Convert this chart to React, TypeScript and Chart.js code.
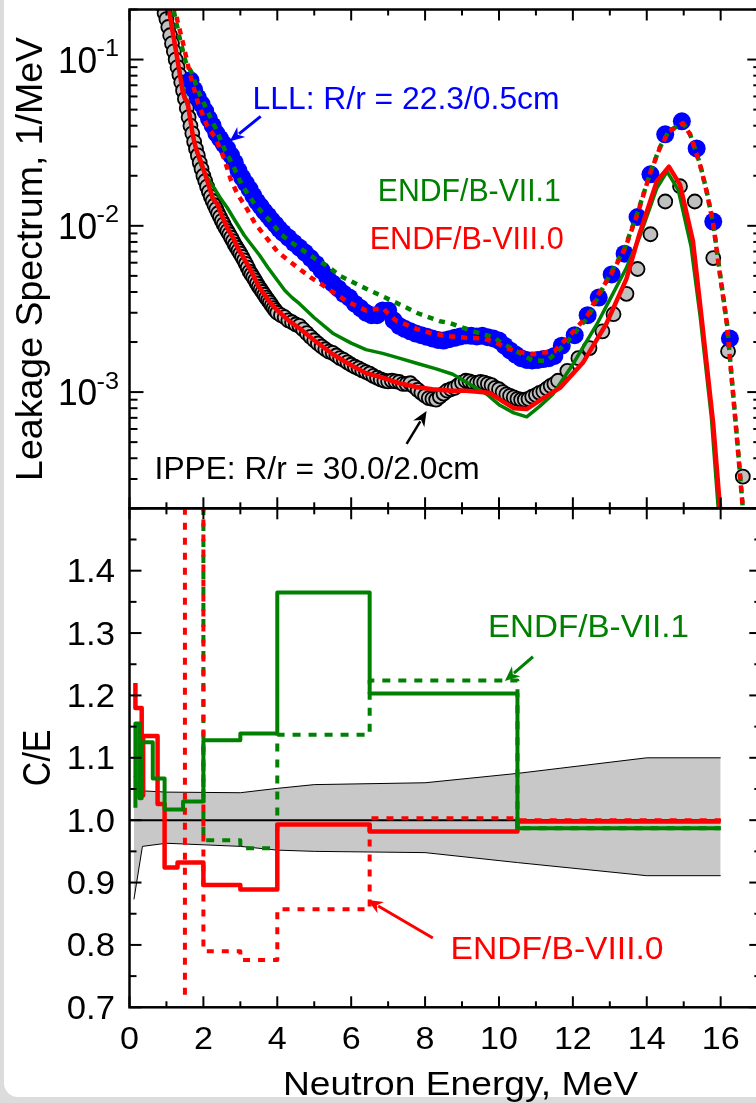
import React, { useEffect, useRef } from "react";
import { Chart, registerables } from "chart.js";

Chart.register(...registerables);

const FONT = '"Liberation Sans", Arial, Helvetica, sans-serif';

// ---------------- Top panel: leakage spectra (1/MeV) ----------------
const ippeEnergy = [0.9, 0.95, 1.0, 1.05, 1.1, 1.15, 1.2, 1.25, 1.3, 1.35, 1.4, 1.45, 1.5, 1.55, 1.6, 1.65, 1.7, 1.75, 1.8, 1.85, 1.9, 1.95, 2.0, 2.05, 2.1, 2.15, 2.2, 2.25, 2.3, 2.35, 2.4, 2.45, 2.5, 2.55, 2.6, 2.65, 2.7, 2.75, 2.8, 2.85, 2.9, 2.95, 3.0, 3.05, 3.1, 3.15, 3.2, 3.25, 3.3, 3.35, 3.4, 3.45, 3.5, 3.55, 3.6, 3.65, 3.7, 3.75, 3.8, 3.85, 3.9, 3.95, 4.0, 4.1, 4.2, 4.3, 4.4, 4.5, 4.6, 4.7, 4.8, 4.9, 5.0, 5.1, 5.2, 5.3, 5.4, 5.5, 5.6, 5.7, 5.8, 5.9, 6.0, 6.1, 6.2, 6.3, 6.4, 6.5, 6.6, 6.7, 6.8, 6.9, 7.0, 7.1, 7.2, 7.3, 7.4, 7.5, 7.6, 7.7, 7.8, 7.9, 8.0, 8.1, 8.2, 8.3, 8.4, 8.5, 8.6, 8.7, 8.8, 8.9, 9.0, 9.1, 9.2, 9.3, 9.4, 9.5, 9.6, 9.7, 9.8, 9.9, 10.0, 10.1, 10.2, 10.3, 10.4, 10.5, 10.6, 10.7, 10.8, 10.9, 11.0, 11.1, 11.2, 11.3, 11.4, 11.5, 11.6, 11.85, 12.15, 12.45, 12.8, 13.1, 13.45, 13.75, 14.1, 14.5, 14.9, 15.3, 15.8, 16.2, 16.6];
const ippeSpectrum = [0.21, 0.19, 0.175, 0.157, 0.14, 0.125, 0.112, 0.1, 0.09, 0.081, 0.073, 0.065, 0.058, 0.051, 0.045, 0.04, 0.036, 0.032, 0.029, 0.0265, 0.024, 0.022, 0.02, 0.0186, 0.0172, 0.016, 0.015, 0.0141, 0.0133, 0.0126, 0.0119, 0.0113, 0.0107, 0.0102, 0.0097, 0.0093, 0.0089, 0.0085, 0.0081, 0.0077, 0.0074, 0.0071, 0.0068, 0.0065, 0.0062, 0.0059, 0.0056, 0.0053, 0.0051, 0.0049, 0.0047, 0.0045, 0.0043, 0.00415, 0.004, 0.00385, 0.0037, 0.00357, 0.00345, 0.00332, 0.0032, 0.0031, 0.003, 0.0029, 0.00282, 0.0027, 0.00263, 0.00255, 0.0025, 0.00238, 0.00226, 0.00215, 0.00205, 0.00196, 0.00188, 0.00181, 0.00175, 0.00172, 0.00166, 0.0016, 0.00156, 0.00151, 0.00146, 0.00142, 0.00139, 0.00135, 0.00132, 0.00129, 0.00125, 0.00122, 0.00119, 0.00117, 0.00116, 0.00117, 0.00116, 0.00115, 0.00112, 0.00112, 0.00113, 0.00108, 0.00103, 0.00099, 0.00095, 0.00092, 0.00091, 0.0009, 0.00094, 0.00098, 0.00102, 0.00104, 0.00106, 0.0011, 0.00114, 0.00117, 0.00116, 0.00114, 0.00113, 0.00115, 0.00114, 0.00112, 0.0011, 0.00106, 0.00104, 0.001, 0.00097, 0.00095, 0.00093, 0.00091, 0.0009, 0.0009, 0.00091, 0.00094, 0.00096, 0.00099, 0.00101, 0.00105, 0.00109, 0.00112, 0.00117, 0.00134, 0.0016, 0.00184, 0.00232, 0.00294, 0.0039, 0.0055, 0.0089, 0.014, 0.0173, 0.014, 0.0064, 0.00176, 0.00031];

const lllEnergy = [1.65, 1.75, 1.85, 1.95, 2.05, 2.15, 2.25, 2.35, 2.45, 2.55, 2.65, 2.75, 2.85, 2.95, 3.05, 3.15, 3.25, 3.35, 3.45, 3.55, 3.65, 3.75, 3.85, 3.95, 4.05, 4.15, 4.3, 4.45, 4.6, 4.75, 4.9, 5.05, 5.2, 5.35, 5.5, 5.65, 5.8, 5.95, 6.1, 6.25, 6.4, 6.55, 6.7, 6.85, 7.0, 7.15, 7.3, 7.45, 7.6, 7.75, 7.9, 8.05, 8.2, 8.35, 8.5, 8.65, 8.8, 8.95, 9.1, 9.25, 9.4, 9.55, 9.7, 9.85, 10.0, 10.15, 10.3, 10.45, 10.6, 10.75, 10.9, 11.05, 11.2, 11.35, 11.5, 11.7, 12.05, 12.4, 12.7, 13.05, 13.4, 13.75, 14.1, 14.5, 14.95, 15.35, 15.8, 16.25];
const lllSpectrum = [0.075, 0.066, 0.059, 0.054, 0.049, 0.044, 0.04, 0.036, 0.0335, 0.031, 0.029, 0.0265, 0.024, 0.0215, 0.0195, 0.018, 0.0166, 0.0152, 0.014, 0.0131, 0.0122, 0.0115, 0.0108, 0.0102, 0.0096, 0.0091, 0.0085, 0.0079, 0.0074, 0.0069, 0.0064, 0.0059, 0.0054, 0.0049, 0.0045, 0.0042, 0.0039, 0.0037, 0.0034, 0.0032, 0.003, 0.0029, 0.0029, 0.0031, 0.0031, 0.0027, 0.0025, 0.0024, 0.00232, 0.00225, 0.0022, 0.00215, 0.0021, 0.00206, 0.00204, 0.00208, 0.00212, 0.00216, 0.00219, 0.00218, 0.00216, 0.00218, 0.00214, 0.0021, 0.00204, 0.0019, 0.00178, 0.00168, 0.0016, 0.00156, 0.00155, 0.00156, 0.00158, 0.0016, 0.00165, 0.0019, 0.0022, 0.0029, 0.0037, 0.0051, 0.0068, 0.0113, 0.0204, 0.0355, 0.0425, 0.0292, 0.0106, 0.0021];

const vii1IppeEnergy = [1.0, 1.1, 1.2, 1.3, 1.4, 1.5, 1.6, 1.7, 1.8, 1.93, 2.1, 2.29, 2.45, 2.65, 2.85, 3.1, 3.3, 3.51, 3.75, 4.0, 4.2, 4.4, 4.6, 5.0, 5.5, 6.0, 6.4, 6.85, 7.3, 7.77, 8.3, 8.75, 9.2, 9.67, 10.0, 10.4, 10.75, 11.1, 11.46, 12.0, 12.65, 13.0, 13.45, 13.8, 14.27, 14.55, 14.85, 15.2, 15.45, 15.75, 15.95];
const vii1IppeSpectrum = [0.24, 0.18, 0.135, 0.1, 0.075, 0.06, 0.05, 0.037, 0.029, 0.0232, 0.0195, 0.0169, 0.0148, 0.0128, 0.0108, 0.0088, 0.0077, 0.0067, 0.0056, 0.0047, 0.0041, 0.0037, 0.0034, 0.0028, 0.00226, 0.00197, 0.0018, 0.00171, 0.0016, 0.00149, 0.00138, 0.00128, 0.00112, 0.00097, 0.00084, 0.00075, 0.00071, 0.00082, 0.00097, 0.00147, 0.00256, 0.0036, 0.0056, 0.0085, 0.0168, 0.0212, 0.0165, 0.0075, 0.0028, 0.0007, 0.00018];

const viii0IppeEnergy = [1.0, 1.07, 1.15, 1.25, 1.35, 1.44, 1.5, 1.57, 1.65, 1.71, 1.8, 1.93, 2.11, 2.26, 2.38, 2.5, 2.65, 2.8, 2.95, 3.06, 3.2, 3.34, 3.5, 3.79, 4.0, 4.3, 4.6, 5.0, 5.5, 6.0, 6.4, 6.8, 7.3, 7.8, 8.2, 8.7, 9.1, 9.75, 10.1, 10.4, 10.75, 11.2, 11.65, 12.27, 12.9, 13.45, 13.8, 14.27, 14.6, 14.9, 15.25, 15.5, 15.8, 16.0];
const viii0IppeSpectrum = [0.23, 0.2, 0.155, 0.115, 0.085, 0.064, 0.058, 0.056, 0.043, 0.0353, 0.029, 0.0244, 0.0185, 0.0145, 0.0135, 0.0115, 0.0097, 0.0085, 0.0072, 0.0066, 0.0058, 0.0051, 0.0043, 0.0035, 0.0031, 0.0027, 0.00242, 0.00205, 0.00169, 0.00145, 0.0013, 0.00123, 0.00113, 0.00107, 0.00104, 0.00102, 0.00102, 0.00099, 0.00088, 0.0008, 0.00079, 0.00092, 0.00106, 0.0015, 0.00256, 0.0048, 0.0089, 0.0185, 0.0227, 0.0177, 0.0081, 0.0026, 0.00064, 0.00018];

const vii1LllEnergy = [1.1, 1.22, 1.36, 1.52, 1.7, 1.84, 2.11, 2.33, 2.57, 2.84, 3.06, 3.39, 3.82, 4.09, 4.47, 5.0, 5.42, 5.7, 6.2, 6.7, 7.4, 7.77, 8.4, 8.67, 9.3, 9.9, 10.0, 10.57, 10.9, 11.3, 11.8, 12.4, 12.7, 13.05, 13.4, 13.75, 14.1, 14.35, 14.6, 14.98, 15.17, 15.44, 15.62, 15.8, 15.98, 16.17, 16.33, 16.47, 16.6, 16.7];
const vii1LllSpectrum = [0.25, 0.186, 0.134, 0.097, 0.082, 0.066, 0.049, 0.0386, 0.029, 0.0221, 0.0173, 0.0135, 0.0106, 0.0089, 0.0077, 0.0064, 0.0056, 0.005, 0.0044, 0.0039, 0.0033, 0.003, 0.00267, 0.0026, 0.00232, 0.00212, 0.00202, 0.00171, 0.00155, 0.00154, 0.00195, 0.0028, 0.0038, 0.0053, 0.0073, 0.012, 0.021, 0.0295, 0.0372, 0.0415, 0.0357, 0.0236, 0.0162, 0.0103, 0.0052, 0.0026, 0.00102, 0.00045, 0.0002, 0.00015];

const viii0LllEnergy = [1.15, 1.3, 1.44, 1.62, 1.84, 2.1, 2.33, 2.56, 2.74, 2.93, 3.14, 3.4, 3.74, 4.0, 4.3, 4.6, 4.9, 5.23, 5.5, 5.9, 6.4, 6.85, 7.2, 7.77, 8.2, 8.67, 9.1, 9.57, 9.9, 10.2, 10.5, 10.9, 11.5, 12.0, 12.4, 12.7, 13.05, 13.4, 13.75, 14.1, 14.35, 14.6, 14.98, 15.17, 15.44, 15.62, 15.8, 15.98, 16.17, 16.33, 16.47, 16.6, 16.7];
const viii0LllSpectrum = [0.25, 0.17, 0.128, 0.085, 0.056, 0.04, 0.0336, 0.0254, 0.019, 0.0154, 0.0131, 0.0103, 0.0083, 0.007, 0.0062, 0.0055, 0.0049, 0.0044, 0.004, 0.0035, 0.0031, 0.0032, 0.0027, 0.0024, 0.00225, 0.00217, 0.00212, 0.0021, 0.002, 0.00184, 0.00175, 0.00169, 0.00176, 0.0023, 0.0029, 0.0039, 0.0052, 0.0072, 0.0118, 0.021, 0.0292, 0.037, 0.0413, 0.0355, 0.0234, 0.0161, 0.0102, 0.0051, 0.00256, 0.00101, 0.00044, 0.0002, 0.00015];

// ---------------- Bottom panel: C/E ----------------
const bandEnergy = [0.12, 0.35, 1.0, 3.0, 4.0, 5.0, 8.0, 10.5, 14.0, 16.0];
const bandUpper = [1.07, 1.047, 1.045, 1.044, 1.051, 1.057, 1.06, 1.075, 1.1, 1.1];
const bandLower = [0.873, 0.958, 0.963, 0.958, 0.952, 0.95, 0.948, 0.932, 0.911, 0.911];

const unityEnergy = [0, 16];
const unityValue = [1.0, 1.0];

const ceVii1IppeEdges = [0.16, 0.16, 0.27, 0.33, 0.63, 0.95, 1.45, 2.0, 3.0, 4.0, 6.5, 10.5, 16.0];
const ceVii1IppeValues = [1.02, 1.155, 1.035, 1.125, 1.067, 1.017, 1.03, 1.128, 1.139, 1.365, 1.203, 0.987];

const ceViii0IppeEdges = [0.16, 0.16, 0.33, 0.37, 0.76, 0.95, 1.3, 2.0, 3.0, 4.0, 6.5, 10.5, 16.0];
const ceViii0IppeValues = [1.22, 1.18, 1.04, 1.135, 1.026, 0.924, 0.932, 0.896, 0.889, 0.993, 0.982, 0.998];

const ceVii1LllEdges = [1.5, 2.0, 3.0, 4.0, 6.5, 10.5, 16.0];
const ceVii1LllValues = [2.0, 0.968, 0.955, 1.137, 1.224, 0.987];

const ceViii0LllEdges = [1.5, 1.5, 2.0, 3.0, 4.0, 6.5, 10.5, 16.0];
const ceViii0LllValues = [0.72, 2.0, 0.79, 0.776, 0.857, 1.003, 1.0];

// ---------------- axes ----------------
const X_MIN = 0;
const X_MAX = 17.1;
const SPEC_MIN = 2e-4;
const SPEC_MAX = 0.2;
const CE_MIN = 0.7;
const CE_MAX = 1.5;

const GREEN = "#008000";
const RED = "#ff0000";
const BLUE = "#0000ff";

const W = 780;
const TOP_H = 520;
const BOT_H = 603;
const BOT_OFFSET = 500;
const PLOT_LEFT = 129.5;
const PLOT_RIGHT = 761.3;

const pts = (xs: number[], ys: number[]) => xs.map((x, i) => ({ x, y: ys[i] }));
// each point sits on a bin's left edge with that bin's value; the last point closes the last bin
const steps = (edges: number[], vals: number[]) =>
  edges.map((x, i) => ({ x, y: vals[Math.min(i, vals.length - 1)] }));

type TextOpts = {
  size: number;
  color?: string;
  sx?: number;
  sy?: number;
  width?: number;
  align?: CanvasTextAlign;
  rot?: number;
};

function drawText(ctx: CanvasRenderingContext2D, text: string, x: number, y: number, o: TextOpts) {
  ctx.save();
  ctx.font = `${o.size}px ${FONT}`;
  ctx.fillStyle = o.color ?? "#000";
  ctx.textAlign = o.align ?? "left";
  ctx.textBaseline = "alphabetic";
  let sx = o.sx ?? 1;
  if (o.width) sx = o.width / ctx.measureText(text).width;
  ctx.translate(x, y);
  if (o.rot) ctx.rotate(o.rot);
  ctx.scale(sx, o.sy ?? 1);
  ctx.fillText(text, 0, 0);
  ctx.restore();
}

function drawArrow(ctx: CanvasRenderingContext2D, x1: number, y1: number, x2: number, y2: number, color: string, lw: number) {
  const ang = Math.atan2(y2 - y1, x2 - x1);
  const hl = 15;
  const hw = 6.5;
  const c = Math.cos(ang);
  const s = Math.sin(ang);
  ctx.save();
  ctx.strokeStyle = color;
  ctx.fillStyle = color;
  ctx.lineWidth = lw;
  ctx.beginPath();
  ctx.moveTo(x1, y1);
  ctx.lineTo(x2 - c * hl * 0.8, y2 - s * hl * 0.8);
  ctx.stroke();
  ctx.beginPath();
  ctx.moveTo(x2, y2);
  ctx.lineTo(x2 - c * hl - s * hw, y2 - s * hl + c * hw);
  ctx.lineTo(x2 - c * hl * 0.7, y2 - s * hl * 0.7);
  ctx.lineTo(x2 - c * hl + s * hw, y2 - s * hl - c * hw);
  ctx.closePath();
  ctx.fill();
  ctx.restore();
}

function seg(ctx: CanvasRenderingContext2D, x1: number, y1: number, x2: number, y2: number) {
  ctx.beginPath();
  ctx.moveTo(x1, y1);
  ctx.lineTo(x2, y2);
  ctx.stroke();
}

function drawXTicks(ctx: CanvasRenderingContext2D, chart: any) {
  const a = chart.chartArea;
  const x = chart.scales.x;
  ctx.lineWidth = 2;
  ctx.strokeStyle = "#000";
  for (let v = Math.ceil(x.min); v <= x.max + 1e-9; v += 1) {
    const px = x.getPixelForValue(v);
    const len = Math.round(v) % 2 === 0 ? 11 : 6;
    seg(ctx, px, a.top, px, a.top + len);
    seg(ctx, px, a.bottom, px, a.bottom - len);
  }
}

const topNotes = [
  { text: "LLL: R/r = 22.3/0.5cm", e: 3.33, v: 0.0501, color: BLUE, size: 31, width: 307 },
  { text: "ENDF/B-VII.1", e: 6.72, v: 0.01403, color: GREEN, size: 31, width: 183 },
  { text: "ENDF/B-VIII.0", e: 6.5, v: 0.00723, color: RED, size: 31, width: 194 },
  { text: "IPPE: R/r = 30.0/2.0cm", e: 0.68, v: 0.0003, color: "#000", size: 31, width: 325 },
];
const topArrows = [
  { from: [3.55, 0.0455], to: [2.71, 0.0322], color: BLUE, lw: 3 },
  { from: [7.5, 0.000488], to: [8.04, 0.000769], color: "#000", lw: 2.5 },
];
const bottomNotes = [
  { text: "ENDF/B-VII.1", e: 9.7, v: 1.2937, color: GREEN, size: 32, width: 201 },
  { text: "ENDF/B-VIII.0", e: 8.69, v: 0.7775, color: RED, size: 32, width: 213 },
];
const bottomArrows = [
  { from: [10.92, 1.262], to: [10.16, 1.223], color: GREEN, lw: 3 },
  { from: [8.21, 0.811], to: [6.45, 0.872], color: RED, lw: 3 },
];

const topDecor = {
  id: "topDecor",
  afterDraw(chart: any) {
    const ctx: CanvasRenderingContext2D = chart.ctx;
    const a = chart.chartArea;
    const x = chart.scales.x;
    const y = chart.scales.y;
    ctx.save();
    drawXTicks(ctx, chart);
    for (let d = -4; d <= -1; d++) {
      for (let m = 1; m <= 9; m++) {
        const v = m * Math.pow(10, d);
        if (v < y.min * 0.999 || v > y.max * 1.001) continue;
        const py = y.getPixelForValue(v);
        const len = m === 1 ? 14 : 8;
        seg(ctx, a.left, py, a.left + len, py);
        seg(ctx, a.right, py, a.right - len, py);
      }
    }
    ctx.lineWidth = 2.5;
    ctx.strokeRect(a.left, a.top, a.right - a.left, a.bottom - a.top);
    for (const t of y.ticks) {
      const lg = Math.log10(t.value);
      if (Math.abs(lg - Math.round(lg)) > 1e-6) continue;
      const py = y.getPixelForValue(t.value);
      drawText(ctx, "10", a.left - 71.5, py + 13, { size: 36, sx: 0.98 });
      drawText(ctx, String(Math.round(lg)), a.left - 33, py - 3.5, { size: 23, sx: 1.1 });
    }
    drawText(ctx, "Leakage Spectrum, 1/MeV", 42, (a.top + a.bottom) / 2, {
      size: 37.5,
      align: "center",
      rot: -Math.PI / 2,
    });
    for (const n of topNotes) {
      drawText(ctx, n.text, x.getPixelForValue(n.e), y.getPixelForValue(n.v), {
        size: n.size,
        color: n.color,
        width: n.width,
      });
    }
    for (const ar of topArrows) {
      drawArrow(
        ctx,
        x.getPixelForValue(ar.from[0]),
        y.getPixelForValue(ar.from[1]),
        x.getPixelForValue(ar.to[0]),
        y.getPixelForValue(ar.to[1]),
        ar.color,
        ar.lw
      );
    }
    ctx.restore();
  },
};

const bottomDecor = {
  id: "bottomDecor",
  afterDraw(chart: any) {
    const ctx: CanvasRenderingContext2D = chart.ctx;
    const a = chart.chartArea;
    const x = chart.scales.x;
    const y = chart.scales.y;
    ctx.save();
    drawXTicks(ctx, chart);
    for (let k = 0; k <= 16; k++) {
      const v = CE_MIN + k * 0.05;
      const py = y.getPixelForValue(v);
      const len = k % 2 === 0 ? 12 : 7;
      seg(ctx, a.left, py, a.left + len, py);
      seg(ctx, a.right, py, a.right - len, py);
    }
    ctx.lineWidth = 2.5;
    ctx.strokeRect(a.left, a.top, a.right - a.left, a.bottom - a.top);
    for (const t of x.ticks) {
      drawText(ctx, String(Math.round(t.value)), x.getPixelForValue(t.value), a.bottom + 41.5, {
        size: 31,
        sx: 1.1,
        align: "center",
      });
    }
    for (const t of y.ticks) {
      if (t.value > CE_MAX - 0.05) continue;
      drawText(ctx, t.value.toFixed(1), a.left - 14.5, y.getPixelForValue(t.value) + 11.5, {
        size: 33,
        sx: 1.05,
        align: "right",
      });
    }
    drawText(ctx, "C/E", 50, (a.top + a.bottom) / 2, {
      size: 34,
      sy: 1.15,
      align: "center",
      rot: -Math.PI / 2,
    });
    drawText(ctx, "Neutron Energy, MeV", 283, a.bottom + 88, { size: 32.5, width: 355 });
    for (const n of bottomNotes) {
      drawText(ctx, n.text, x.getPixelForValue(n.e), y.getPixelForValue(n.v), {
        size: n.size,
        color: n.color,
        width: n.width,
      });
    }
    for (const ar of bottomArrows) {
      drawArrow(
        ctx,
        x.getPixelForValue(ar.from[0]),
        y.getPixelForValue(ar.from[1]),
        x.getPixelForValue(ar.to[0]),
        y.getPixelForValue(ar.to[1]),
        ar.color,
        ar.lw
      );
    }
    ctx.restore();
  },
};

const lineDs = (label: string, data: any[], color: string, width: number, order: number, extra: any = {}) => ({
  label,
  data,
  showLine: true,
  borderColor: color,
  backgroundColor: color,
  borderWidth: width,
  pointRadius: 0,
  pointHoverRadius: 0,
  tension: 0,
  borderJoinStyle: "round",
  borderCapStyle: "butt",
  fill: false,
  order,
  ...extra,
});

function topConfig(): any {
  return {
    type: "scatter",
    data: {
      datasets: [
        lineDs("ENDF/B-VIII.0 (LLL)", pts(viii0LllEnergy, viii0LllSpectrum), RED, 4.5, 0, {
          borderDash: [6, 6],
          borderDashOffset: 0,
        }),
        lineDs("ENDF/B-VII.1 (LLL)", pts(vii1LllEnergy, vii1LllSpectrum), GREEN, 4.5, 1, {
          borderDash: [6, 6],
          borderDashOffset: 6,
        }),
        lineDs("ENDF/B-VIII.0 (IPPE)", pts(viii0IppeEnergy, viii0IppeSpectrum), RED, 4.5, 2),
        lineDs("ENDF/B-VII.1 (IPPE)", pts(vii1IppeEnergy, vii1IppeSpectrum), GREEN, 3.5, 3),
        {
          label: "LLL",
          data: pts(lllEnergy, lllSpectrum),
          showLine: false,
          pointRadius: 9,
          pointBackgroundColor: BLUE,
          pointBorderColor: BLUE,
          pointBorderWidth: 0,
          order: 4,
        },
        {
          label: "IPPE",
          data: pts(ippeEnergy, ippeSpectrum),
          showLine: false,
          pointRadius: 7,
          pointBackgroundColor: "#c0c0c0",
          pointBorderColor: "#000",
          pointBorderWidth: 1.8,
          order: 5,
        },
      ],
    },
    options: {
      responsive: false,
      animation: false,
      events: [],
      layout: { padding: { left: 0, right: W - PLOT_RIGHT, top: 9.5, bottom: TOP_H - 508.3 } },
      plugins: { legend: { display: false }, tooltip: { enabled: false } },
      scales: {
        x: { type: "linear", min: X_MIN, max: X_MAX, display: false },
        y: {
          type: "logarithmic",
          min: SPEC_MIN,
          max: SPEC_MAX,
          grid: { display: false },
          border: { display: false },
          ticks: { display: false },
          afterFit: (s: any) => {
            s.width = PLOT_LEFT;
          },
        },
      },
    },
    plugins: [topDecor],
  };
}

function bottomConfig(): any {
  return {
    type: "scatter",
    data: {
      datasets: [
        lineDs("ENDF/B-VII.1 C/E (IPPE)", steps(ceVii1IppeEdges, ceVii1IppeValues), GREEN, 4, 0, { stepped: "before" }),
        lineDs("ENDF/B-VIII.0 C/E (IPPE)", steps(ceViii0IppeEdges, ceViii0IppeValues), RED, 4.5, 1, { stepped: "before" }),
        lineDs("ENDF/B-VIII.0 C/E (LLL)", steps(ceViii0LllEdges, ceViii0LllValues), RED, 4, 2, {
          stepped: "before",
          borderDash: [7, 8],
          borderDashOffset: 0,
        }),
        lineDs("ENDF/B-VII.1 C/E (LLL)", steps(ceVii1LllEdges, ceVii1LllValues), GREEN, 4, 3, {
          stepped: "before",
          borderDash: [8, 8],
          borderDashOffset: 7,
        }),
        lineDs("unity", pts(unityEnergy, unityValue), "#000", 2, 4),
        lineDs("uncertainty upper", pts(bandEnergy, bandUpper), "#000", 1, 6, {
          fill: "+1",
          backgroundColor: "#c8c8c8",
        }),
        lineDs("uncertainty lower", pts(bandEnergy, bandLower), "#000", 1, 5),
      ],
    },
    options: {
      responsive: false,
      animation: false,
      events: [],
      layout: { padding: { left: 0, right: W - PLOT_RIGHT, top: 508.3 - BOT_OFFSET, bottom: 0 } },
      plugins: { legend: { display: false }, tooltip: { enabled: false } },
      scales: {
        x: {
          type: "linear",
          min: X_MIN,
          max: X_MAX,
          grid: { display: false },
          border: { display: false },
          ticks: { display: false, stepSize: 2, includeBounds: false },
          afterFit: (s: any) => {
            s.height = BOT_H - (1007.3 - BOT_OFFSET);
          },
        },
        y: {
          type: "linear",
          min: CE_MIN,
          max: CE_MAX,
          grid: { display: false },
          border: { display: false },
          ticks: { display: false, stepSize: 0.1 },
          afterFit: (s: any) => {
            s.width = PLOT_LEFT;
          },
        },
      },
    },
    plugins: [bottomDecor],
  };
}

export default function App() {
  const topRef = useRef<HTMLCanvasElement>(null);
  const botRef = useRef<HTMLCanvasElement>(null);
  useEffect(() => {
    const c1 = new Chart(topRef.current as HTMLCanvasElement, topConfig());
    const c2 = new Chart(botRef.current as HTMLCanvasElement, bottomConfig());
    return () => {
      c1.destroy();
      c2.destroy();
    };
  }, []);
  return (
    <div
      style={{
        position: "fixed",
        left: 0,
        top: 0,
        width: 756,
        height: 1103,
        overflow: "hidden",
        background: "#dcdcdc",
      }}
    >
      <div
        style={{
          position: "absolute",
          left: 4,
          top: -40,
          width: 900,
          height: 1137,
          background: "#fff",
          borderRadius: 14,
        }}
      />
      <canvas
        ref={topRef}
        width={W}
        height={TOP_H}
        style={{ position: "absolute", left: 0, top: 0, width: W, height: TOP_H }}
      />
      <canvas
        ref={botRef}
        width={W}
        height={BOT_H}
        style={{ position: "absolute", left: 0, top: BOT_OFFSET, width: W, height: BOT_H }}
      />
    </div>
  );
}
